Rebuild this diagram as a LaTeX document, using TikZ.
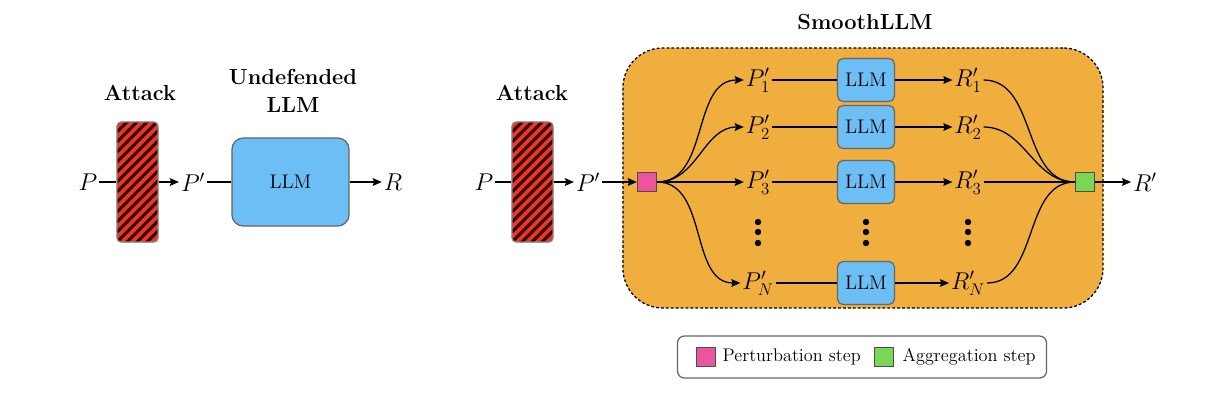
\documentclass[tikz,border=0pt]{standalone}
\usepackage{tikz}
\usetikzlibrary{positioning}
\usetikzlibrary{arrows.meta}
\definecolor{llmblue}{RGB}{110,190,246}
\definecolor{smoothorange}{RGB}{240,174,62}
\definecolor{pertpink}{RGB}{236,84,160}
\definecolor{aggrgreen}{RGB}{124,214,86}
\definecolor{attackred}{RGB}{238,52,36}
\definecolor{attackdark}{RGB}{45,5,5}

\tikzset{
  lbl/.style = {font=\fontsize{16.5}{19}\selectfont, inner sep=1pt},
  title/.style = {font=\bfseries\fontsize{15.5}{20}\selectfont, align=center},
  llm/.style = {draw=black!60, fill=llmblue, rounded corners=4pt,
    minimum width=1.425cm, minimum height=1.075cm, font=\fontsize{14}{16}\selectfont},
  bigllm/.style = {llm, rounded corners=8pt, minimum width=2.925cm, minimum height=2.2cm},
  sq/.style = {draw=black!70, minimum size=0.475cm, inner sep=0pt},
  arr/.style = {-{Stealth[length=6.5pt, width=5.5pt, inset=1pt]}},
  attackbox/.style = {draw=black!50, fill=attackred, rounded corners=3pt,
    minimum width=1.025cm, minimum height=3cm,
    path picture={
      \foreach \k in {-6,...,13}
        \draw[attackdark, line width=2.2pt]
          ([yshift=\k*0.25cm]path picture bounding box.south west) -- ++(1.4cm,1.4cm);
    }},
  container/.style = {draw=black, dash pattern=on 2pt off 1.5pt, fill=smoothorange,
    rounded corners=1cm, minimum width=12cm, minimum height=6.5cm},
  legendbox/.style = {draw=black!60, rounded corners=5pt,
    minimum width=9.225cm, minimum height=1.05cm},
  legtext/.style = {font=\fontsize{13}{16}\selectfont, anchor=west, inner sep=0pt}
}

\begin{document}
\begin{tikzpicture}[x=0.025cm, y=-0.025cm, line width=0.9pt]
\useasboundingbox (0,0) rectangle (1225,404);

% undefended side
\node[lbl] (p0) at (88,182) {$P$};
\node[attackbox] (atk0) at (137.5,182) {};
\node[title] (atk0title) at (140,93) {Attack};
\node[lbl] (pp0) at (193,182) {$P'$};
\node[bigllm] (llm0) at (290.5,182) {LLM};
\node[title] (undef) at (293,91) {Undefended\\LLM};
\node[lbl] (r0) at (393,182) {$R$};

\draw (p0) -- (atk0);
\draw[arr] (atk0) -- (pp0);
\draw (pp0) -- (llm0);
\draw[arr] (llm0) -- (r0);

% smoothllm side
\node[container] (smooth) at (863,178) {};
\node[title] (smoothtitle) at (865,22) {SmoothLLM};

\node[lbl] (p1) at (484,182) {$P$};
\node[attackbox] (atk1) at (532.5,182) {};
\node[title] (atk1title) at (532,93) {Attack};
\node[lbl] (pp1) at (588,182) {$P'$};
\node[sq, fill=pertpink] (pert) at (647,182) {};
\node[sq, fill=aggrgreen] (aggr) at (1085,182) {};
\node[lbl] (rout) at (1145,182) {$R'$};

\draw (p1) -- (atk1);
\draw[arr] (atk1) -- (pp1);
\draw[arr] (pp1) -- (pert);
\draw[arr] (aggr) -- (rout);

\foreach \i/\y in {1/80, 2/127, 3/182, N/283} {
  \node[lbl] (pp\i) at (758,\y) {$P'_{\i}$};
  \node[llm] (llm\i) at (866,\y) {LLM};
  \node[lbl] (rr\i) at (968,\y) {$R'_{\i}$};
  \draw (pp\i) -- (llm\i);
  \draw[arr] (llm\i) -- (rr\i);
  \draw[arr] (pert.east) to[out=0, in=180] (pp\i.west);
  \draw (rr\i.east) to[out=0, in=180] (aggr.west);
}

% vertical dots
\foreach \x in {758, 866, 968}
  \foreach \y in {222, 232, 243}
    \fill (\x,\y) circle (0.08cm);

% legend
\node[legendbox] (legend) at (862,357) {};
\node[sq, fill=pertpink] (lpert) at (706,357) {};
\node[legtext] (lperttext) at (722,357) {Perturbation step};
\node[sq, fill=aggrgreen] (laggr) at (884,357) {};
\node[legtext] (laggrtext) at (902,357) {Aggregation step};
\end{tikzpicture}
\end{document}
